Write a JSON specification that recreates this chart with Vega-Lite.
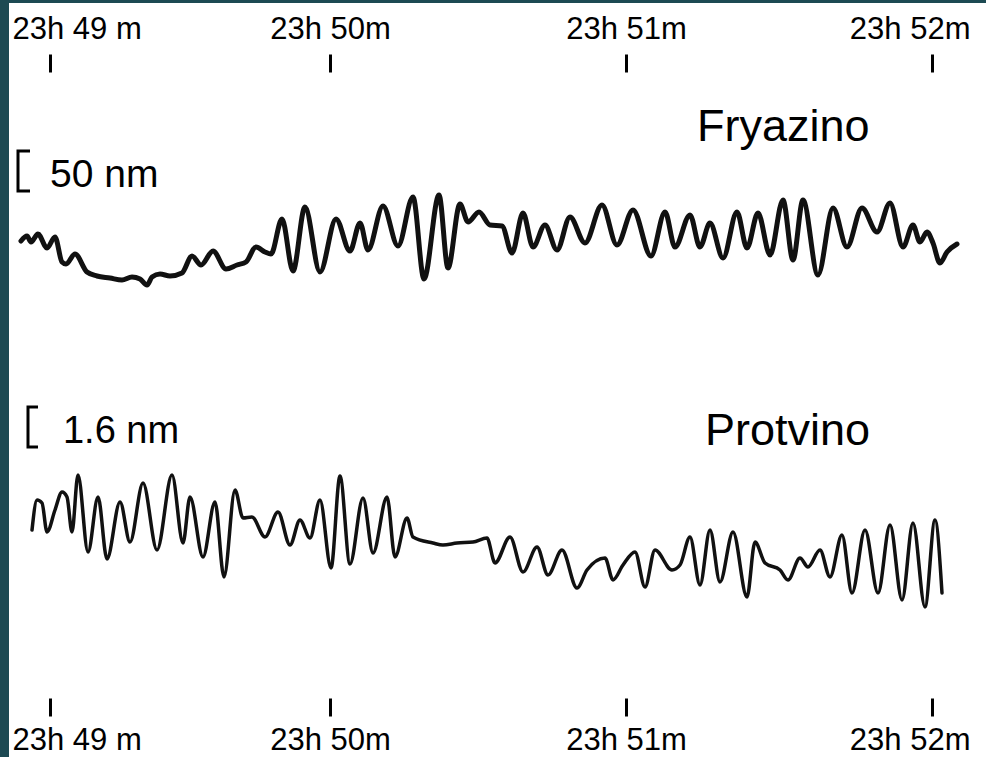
{
  "$schema": "https://vega.github.io/schema/vega-lite/v6.json",
  "width": 977,
  "height": 754,
  "autosize": {"type": "none"},
  "padding": {"left": 9, "top": 3, "right": 0, "bottom": 0},
  "background": "#1d4a53",
  "config": {
    "view": {"fill": "white", "stroke": null},
    "font": "Liberation Sans",
    "axis": {
      "title": null,
      "domain": false,
      "grid": false,
      "ticks": true,
      "tickSize": 18,
      "tickWidth": 3,
      "tickColor": "black",
      "labelFontSize": 31,
      "labelFont": "Liberation Sans",
      "labelColor": "black",
      "labelPadding": 9,
      "labelFlush": 60,
      "labelFlushOffset": 38,
      "labelOverlap": false
    }
  },
  "layer": [
    {
      "encoding": {
        "x": {
          "field": "t",
          "type": "quantitative",
          "scale": {"domain": [-8.367, 191.02], "nice": false, "zero": false},
          "axis": {
            "orient": "top",
            "offset": -69,
            "values": [0, 57.14, 117.55, 180],
            "labelExpr": "datum.value < 10 ? '23h 49 m' : datum.value < 90 ? '23h 50m' : datum.value < 150 ? '23h 51m' : '23h 52m'"
          }
        },
        "y": {
          "field": "v",
          "type": "quantitative",
          "scale": {"domain": [-646.25, 296.25], "nice": false, "zero": false},
          "axis": null
        }
      },
      "layer": [
        {
          "data": {"values": [
            {"t":-5.92,"v":-1.25},{"t":-4.69,"v":5},{"t":-3.88,"v":-2.5},{"t":-2.45,"v":7.5},{"t":-0.61,"v":-10},{"t":1.02,"v":3.75},{"t":2.45,"v":-27.5},{"t":3.27,"v":-30},{"t":5.10,"v":-17.5},{"t":7.55,"v":-40},{"t":9.59,"v":-45},{"t":12.24,"v":-47.5},{"t":14.69,"v":-50},{"t":16.73,"v":-46.25},{"t":18.37,"v":-48.75},{"t":19.80,"v":-56.25},{"t":20.82,"v":-46.25},{"t":22.45,"v":-42.5},{"t":24.49,"v":-45},{"t":26.94,"v":-41.25},{"t":28.98,"v":-20},{"t":30.82,"v":-31.25},{"t":33.27,"v":-13.75},{"t":35.92,"v":-36.25},{"t":38.16,"v":-31.25},{"t":40.00,"v":-27.5},{"t":42.04,"v":-8.75},{"t":43.88,"v":-15},{"t":45.10,"v":-17.5},{"t":47.35,"v":26.25},{"t":49.59,"v":-38.75},{"t":52.04,"v":41.25},{"t":55.10,"v":-40},{"t":58.37,"v":26.25},{"t":61.22,"v":-13.75},{"t":63.27,"v":21.25},{"t":64.90,"v":-12.5},{"t":67.96,"v":42.5},{"t":71.02,"v":-7.5},{"t":74.08,"v":53.75},{"t":76.33,"v":-48.75},{"t":79.39,"v":56.25},{"t":81.22,"v":-35},{"t":83.67,"v":45},{"t":85.31,"v":22.5},{"t":87.55,"v":35},{"t":89.80,"v":18.75},{"t":92.24,"v":17.5},{"t":94.29,"v":-16.25},{"t":96.53,"v":33.75},{"t":98.57,"v":-8.75},{"t":101.02,"v":18.75},{"t":103.47,"v":-12.5},{"t":106.12,"v":28.75},{"t":109.18,"v":-3.75},{"t":112.65,"v":43.75},{"t":115.71,"v":-6.25},{"t":118.98,"v":37.5},{"t":122.65,"v":-20},{"t":125.51,"v":35},{"t":127.55,"v":-8.75},{"t":130.61,"v":31.25},{"t":132.65,"v":-8.75},{"t":134.69,"v":21.25},{"t":137.35,"v":-22.5},{"t":140.20,"v":35},{"t":142.24,"v":-10},{"t":144.49,"v":33.75},{"t":146.94,"v":-18.75},{"t":149.59,"v":50},{"t":151.63,"v":-25},{"t":153.67,"v":50},{"t":156.73,"v":-43.75},{"t":159.80,"v":40},{"t":162.65,"v":-8.75},{"t":165.71,"v":40},{"t":168.78,"v":10},{"t":171.43,"v":46.25},{"t":174.08,"v":-8.75},{"t":176.12,"v":18.75},{"t":177.55,"v":-2.5},{"t":178.98,"v":10},{"t":180.20,"v":-3.75},{"t":181.63,"v":-28.75},{"t":183.06,"v":-15},{"t":185.10,"v":-5}
          ]},
          "mark": {"type": "line", "color": "#111111", "strokeWidth": 5, "interpolate": "monotone", "strokeCap": "round", "strokeJoin": "round"}
        },
        {
          "data": {"values": [
            {"t": -4.08, "v": 111.25, "o": 1},
            {"t": -6.53, "v": 111.25, "o": 2},
            {"t": -6.53, "v": 61.25, "o": 3},
            {"t": -4.08, "v": 61.25, "o": 4}
          ]},
          "mark": {"type": "line", "color": "black", "strokeWidth": 3, "strokeJoin": "miter"},
          "encoding": {"order": {"field": "o", "type": "quantitative"}}
        },
        {
          "data": {"values": [{"t": 0, "v": 66.25, "label": "50 nm"}]},
          "mark": {"type": "text", "align": "left", "baseline": "alphabetic", "fontSize": 39, "color": "black", "font": "Liberation Sans"},
          "encoding": {"text": {"field": "label"}}
        },
        {
          "data": {"values": [{"t": 132.04, "v": 123.75, "label": "Fryazino"}]},
          "mark": {"type": "text", "align": "left", "baseline": "alphabetic", "fontSize": 45, "color": "black", "font": "Liberation Sans"},
          "encoding": {"text": {"field": "label"}}
        }
      ]
    },
    {
      "encoding": {
        "x": {
          "field": "t",
          "type": "quantitative",
          "scale": {"domain": [-8.367, 191.02], "nice": false, "zero": false},
          "axis": {
            "orient": "bottom",
            "offset": -59,
            "values": [0, 57.14, 117.55, 180],
            "labelExpr": "datum.value < 10 ? '23h 49 m' : datum.value < 90 ? '23h 50m' : datum.value < 150 ? '23h 51m' : '23h 52m'"
          }
        },
        "y": {
          "field": "v",
          "type": "quantitative",
          "scale": {"domain": [-8.68, 21.48], "nice": false, "zero": false},
          "axis": null
        }
      },
      "layer": [
        {
          "data": {"values": [
            {"t":-3.67,"v":0.4},{"t":-2.65,"v":1.6},{"t":-1.63,"v":1.48},{"t":-0.61,"v":0.32},{"t":1.02,"v":1.2},{"t":2.45,"v":1.92},{"t":3.47,"v":1.72},{"t":4.49,"v":0.32},{"t":5.71,"v":2.6},{"t":7.76,"v":-0.48},{"t":9.80,"v":1.72},{"t":11.63,"v":-0.76},{"t":14.29,"v":1.52},{"t":16.33,"v":-0.08},{"t":18.98,"v":2.28},{"t":21.84,"v":-0.4},{"t":24.90,"v":2.6},{"t":27.14,"v":-0.12},{"t":28.57,"v":1.72},{"t":31.22,"v":-0.68},{"t":33.67,"v":1.52},{"t":35.51,"v":-1.48},{"t":37.76,"v":2.0},{"t":39.39,"v":0.88},{"t":41.22,"v":0.92},{"t":43.88,"v":0.12},{"t":46.53,"v":1.12},{"t":48.98,"v":-0.2},{"t":51.02,"v":0.8},{"t":53.06,"v":0.08},{"t":55.10,"v":1.6},{"t":57.35,"v":-1.12},{"t":59.18,"v":2.56},{"t":61.22,"v":-0.96},{"t":63.88,"v":1.68},{"t":65.92,"v":-0.52},{"t":68.78,"v":1.72},{"t":70.41,"v":-0.68},{"t":72.86,"v":0.88},{"t":74.08,"v":0.12},{"t":78.16,"v":-0.12},{"t":80.20,"v":-0.2},{"t":83.06,"v":-0.12},{"t":86.33,"v":-0.08},{"t":89.18,"v":0.08},{"t":90.82,"v":-0.92},{"t":93.88,"v":0.12},{"t":96.53,"v":-1.28},{"t":99.39,"v":-0.28},{"t":101.63,"v":-1.4},{"t":104.49,"v":-0.4},{"t":107.55,"v":-1.92},{"t":109.59,"v":-1.2},{"t":113.27,"v":-0.72},{"t":114.90,"v":-1.6},{"t":116.94,"v":-1.0},{"t":119.39,"v":-0.48},{"t":121.43,"v":-1.88},{"t":123.47,"v":-0.4},{"t":126.94,"v":-1.2},{"t":128.57,"v":-1.0},{"t":130.61,"v":0.12},{"t":132.65,"v":-1.8},{"t":134.69,"v":0.4},{"t":136.73,"v":-1.68},{"t":139.39,"v":0.32},{"t":142.24,"v":-2.28},{"t":143.88,"v":-0.08},{"t":145.92,"v":-0.92},{"t":148.98,"v":-1.2},{"t":150.61,"v":-1.6},{"t":153.06,"v":-0.72},{"t":154.69,"v":-1.08},{"t":157.14,"v":-0.4},{"t":159.18,"v":-1.48},{"t":161.63,"v":0.2},{"t":163.67,"v":-2.12},{"t":166.33,"v":0.4},{"t":168.98,"v":-2.12},{"t":171.43,"v":0.6},{"t":173.88,"v":-2.4},{"t":176.12,"v":0.68},{"t":178.57,"v":-2.68},{"t":180.61,"v":0.8},{"t":182.04,"v":-2.12}
          ]},
          "mark": {"type": "line", "color": "#111111", "strokeWidth": 3.5, "interpolate": "monotone", "strokeCap": "round", "strokeJoin": "round"}
        },
        {
          "data": {"values": [
            {"t": -2.45, "v": 5.32, "o": 1},
            {"t": -4.49, "v": 5.32, "o": 2},
            {"t": -4.49, "v": 3.72, "o": 3},
            {"t": -2.45, "v": 3.72, "o": 4}
          ]},
          "mark": {"type": "line", "color": "black", "strokeWidth": 3, "strokeJoin": "miter"},
          "encoding": {"order": {"field": "o", "type": "quantitative"}}
        },
        {
          "data": {"values": [{"t": 2.65, "v": 3.88, "label": "1.6 nm"}]},
          "mark": {"type": "text", "align": "left", "baseline": "alphabetic", "fontSize": 38, "color": "black", "font": "Liberation Sans"},
          "encoding": {"text": {"field": "label"}}
        },
        {
          "data": {"values": [{"t": 133.67, "v": 3.8, "label": "Protvino"}]},
          "mark": {"type": "text", "align": "left", "baseline": "alphabetic", "fontSize": 45, "color": "black", "font": "Liberation Sans"},
          "encoding": {"text": {"field": "label"}}
        }
      ]
    }
  ],
  "resolve": {"scale": {"y": "independent"}, "axis": {"x": "independent"}}
}
